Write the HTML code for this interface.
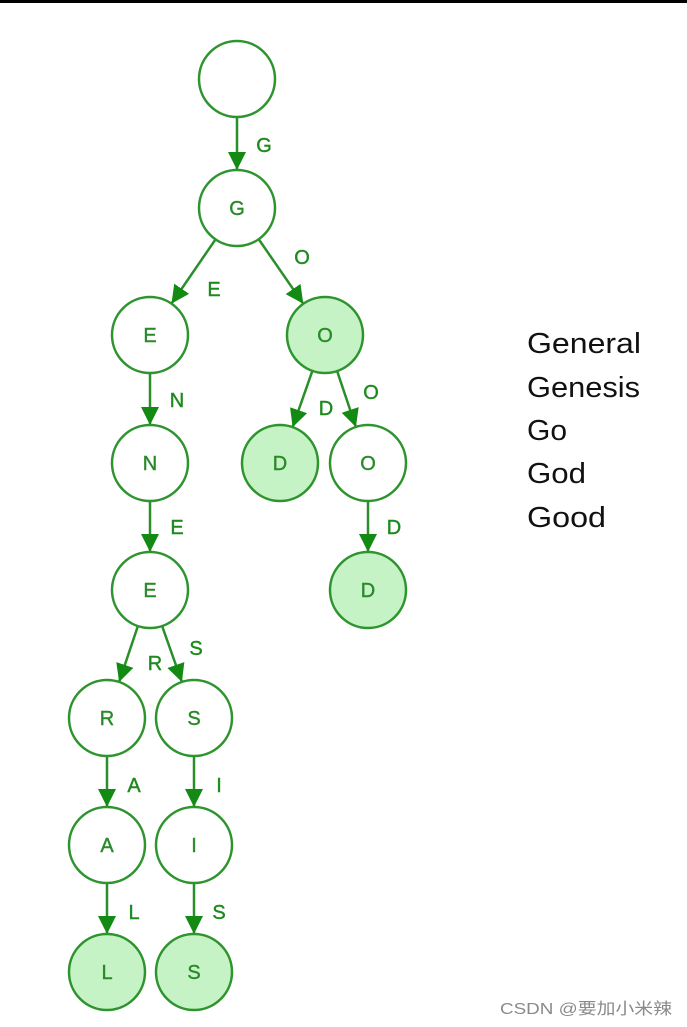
<!DOCTYPE html>
<html><head><meta charset="utf-8"><style>
html,body{margin:0;padding:0;background:#fff;}
svg{display:block;}
</style></head><body>
<svg width="687" height="1027" viewBox="0 0 687 1027" xmlns="http://www.w3.org/2000/svg">
<defs>
<marker id="ar" markerUnits="userSpaceOnUse" markerWidth="20" markerHeight="20" refX="18" refY="9" orient="auto">
<path d="M0,0 L18,9 L0,18 Z" fill="#138a13"/>
</marker>
</defs>
<rect x="0" y="0" width="687" height="3" fill="#000"/>
<g stroke="#2a8f2a" stroke-width="2.5" marker-end="url(#ar)">
<line x1="237" y1="117" x2="237" y2="170"/>
<line x1="215.5" y1="239.4" x2="171.5" y2="303.6"/>
<line x1="258.7" y1="239.2" x2="303.3" y2="303.8"/>
<line x1="150" y1="373" x2="150" y2="425"/>
<line x1="312.4" y1="370.8" x2="292.6" y2="427.2"/>
<line x1="337.1" y1="371" x2="355.9" y2="427"/>
<line x1="150" y1="501" x2="150" y2="552"/>
<line x1="368" y1="501" x2="368" y2="552"/>
<line x1="137.9" y1="626" x2="119.1" y2="682"/>
<line x1="162.1" y1="626" x2="181.9" y2="682"/>
<line x1="107" y1="756" x2="107" y2="807"/>
<line x1="194" y1="756" x2="194" y2="807"/>
<line x1="107" y1="883" x2="107" y2="934"/>
<line x1="194" y1="883" x2="194" y2="934"/>
</g>
<g stroke="#2e942e" stroke-width="2.5">
<circle cx="237" cy="79" r="38" fill="#fff"/>
<circle cx="237" cy="208" r="38" fill="#fff"/>
<circle cx="150" cy="335" r="38" fill="#fff"/>
<circle cx="325" cy="335" r="38" fill="#c6f3c6"/>
<circle cx="150" cy="463" r="38" fill="#fff"/>
<circle cx="280" cy="463" r="38" fill="#c6f3c6"/>
<circle cx="368" cy="463" r="38" fill="#fff"/>
<circle cx="150" cy="590" r="38" fill="#fff"/>
<circle cx="368" cy="590" r="38" fill="#c6f3c6"/>
<circle cx="107" cy="718" r="38" fill="#fff"/>
<circle cx="194" cy="718" r="38" fill="#fff"/>
<circle cx="107" cy="845" r="38" fill="#fff"/>
<circle cx="194" cy="845" r="38" fill="#fff"/>
<circle cx="107" cy="972" r="38" fill="#c6f3c6"/>
<circle cx="194" cy="972" r="38" fill="#c6f3c6"/>
</g>
<g font-family="Liberation Sans, sans-serif" font-size="20" fill="#2a8a2a" text-anchor="middle" stroke="#2a8a2a" stroke-width="0.4">
<text x="237" y="215">G</text>
<text x="150" y="342">E</text>
<text x="325" y="342">O</text>
<text x="150" y="470">N</text>
<text x="280" y="470">D</text>
<text x="368" y="470">O</text>
<text x="150" y="597">E</text>
<text x="368" y="597">D</text>
<text x="107" y="725">R</text>
<text x="194" y="725">S</text>
<text x="107" y="852">A</text>
<text x="194" y="852">I</text>
<text x="107" y="979">L</text>
<text x="194" y="979">S</text>
</g>
<g font-family="Liberation Sans, sans-serif" font-size="20" fill="#1e8a1e" text-anchor="middle" stroke="#1e8a1e" stroke-width="0.4">
<text x="264" y="152">G</text>
<text x="214" y="296">E</text>
<text x="302" y="264">O</text>
<text x="177" y="407">N</text>
<text x="326" y="415">D</text>
<text x="371" y="399">O</text>
<text x="177" y="534">E</text>
<text x="394" y="534">D</text>
<text x="155" y="670">R</text>
<text x="196" y="655">S</text>
<text x="134" y="792">A</text>
<text x="219" y="792">I</text>
<text x="134" y="919">L</text>
<text x="219" y="919">S</text>
</g>
<g font-family="Liberation Sans, sans-serif" font-size="29" fill="#111">
<text x="527" y="353" textLength="114" lengthAdjust="spacingAndGlyphs">General</text>
<text x="527" y="397" textLength="113" lengthAdjust="spacingAndGlyphs">Genesis</text>
<text x="527" y="440" textLength="40" lengthAdjust="spacingAndGlyphs">Go</text>
<text x="527" y="483" textLength="59" lengthAdjust="spacingAndGlyphs">God</text>
<text x="527" y="527" textLength="79" lengthAdjust="spacingAndGlyphs">Good</text>
</g>
<text x="500" y="1014" font-family="Liberation Sans, 'Noto Sans CJK SC', sans-serif" font-size="16" fill="#8a8a8a" textLength="172" lengthAdjust="spacingAndGlyphs">CSDN @要加小米辣</text>
</svg>
</body></html>
